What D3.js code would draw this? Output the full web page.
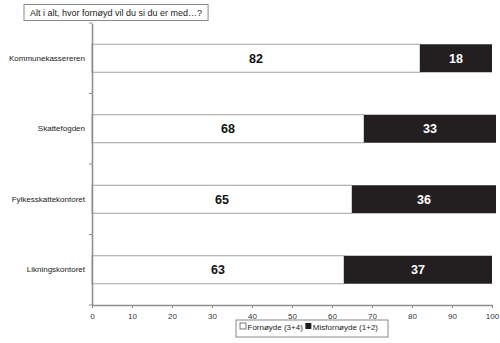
<!DOCTYPE html>
<html><head><meta charset="utf-8">
<script src="https://cdn.jsdelivr.net/npm/d3@7"></script>
<style>body{margin:0;background:#fff}svg{display:block;font-family:"Liberation Sans",Arial,sans-serif}</style>
</head><body>
<script>
const categories = ["Kommunekassereren","Skattefogden","Fylkesskattekontoret","Likningskontoret"];
const fornoyde = [82,68,65,63];
const misfornoyde = [18,33,36,37];
const seriesNames = ["Fornøyde (3+4)","Misfornøyde (1+2)"];
const xTicks = [0,10,20,30,40,50,60,70,80,90,100];
const title = "Alt i alt, hvor fornøyd vil du si du er med…?";

const W=500,H=343;
const svg=d3.select("body").append("svg").attr("width",W).attr("height",H);
const x=d3.scaleLinear().domain([0,100]).range([92,492]);
const y=d3.scaleBand().domain(categories).range([23,305]);
const barH=28;
const axisCol="#8c8c8c";

// title box
const tg=svg.append("g");
const tt=tg.append("text").attr("x",30).attr("y",16).attr("font-size",9).attr("fill","#222").text(title);
const tb=tt.node().getBBox();
tg.insert("rect","text").attr("x",24).attr("y",4.5).attr("width",tb.width+12).attr("height",16).attr("fill","#fff").attr("stroke","#888");

// bars
const data=categories.map((c,i)=>({c,a:fornoyde[i],b:misfornoyde[i]}));
const g=svg.append("g");
data.forEach(d=>{
  const yc=y(d.c)+y.bandwidth()/2;
  g.append("rect").attr("x",x(0)).attr("y",yc-barH/2).attr("width",x(d.a)-x(0)).attr("height",barH)
    .attr("fill","#fff").attr("stroke","#a0a0a0").attr("stroke-width",1);
  g.append("rect").attr("x",x(d.a)).attr("y",yc-barH/2).attr("width",x(d.a+d.b)-x(d.a)).attr("height",barH)
    .attr("fill","#231f20");
  g.append("text").attr("x",(x(0)+x(d.a))/2).attr("y",yc+4.5).attr("text-anchor","middle")
    .attr("font-size",12.5).attr("font-weight","bold").attr("fill","#111").text(d.a);
  g.append("text").attr("x",(x(d.a)+x(d.a+d.b))/2).attr("y",yc+4.5).attr("text-anchor","middle")
    .attr("font-size",12.5).attr("font-weight","bold").attr("fill","#fff").text(d.b);
});

// x axis
const xa=svg.append("g").attr("transform","translate(0,305)")
  .call(d3.axisBottom(x).tickValues(xTicks).tickSize(3).tickSizeOuter(0).tickPadding(5));
xa.select(".domain").attr("stroke",axisCol).attr("stroke-width",1.5);
xa.selectAll(".tick line").attr("stroke",axisCol);
xa.selectAll("text").attr("font-size",8).attr("fill","#333").attr("font-family","Liberation Sans, Arial, sans-serif");

// y axis
const ya=svg.append("g").attr("transform","translate(92,0)")
  .call(d3.axisLeft(y).tickSize(0).tickPadding(7));
ya.select(".domain").attr("stroke",axisCol).attr("stroke-width",1.5);
ya.selectAll("text").attr("font-size",8).attr("fill","#222").attr("font-family","Liberation Sans, Arial, sans-serif");
const bounds=[23].concat(categories.map(c=>y(c)+y.bandwidth()));
svg.append("g").selectAll("line").data(bounds).join("line")
  .attr("x1",89).attr("x2",92).attr("y1",d=>d).attr("y2",d=>d).attr("stroke",axisCol);

// legend
const lg=svg.append("g");
const lx=240, ly=329;
lg.append("rect").attr("x",236).attr("y",320).attr("width",152).attr("height",17).attr("fill","#fff").attr("stroke","#888");
lg.append("rect").attr("x",lx).attr("y",ly-6).attr("width",6).attr("height",6).attr("fill","#fff").attr("stroke","#555").attr("stroke-width",0.8);
const t1=lg.append("text").attr("x",lx+7.5).attr("y",ly+1).attr("font-size",8).attr("fill","#222").text(seriesNames[0]);
const w1=t1.node().getComputedTextLength();
lg.append("rect").attr("x",lx+9+w1+1).attr("y",ly-6).attr("width",6).attr("height",6).attr("fill","#231f20");
lg.append("text").attr("x",lx+9+w1+8.5).attr("y",ly+1).attr("font-size",8).attr("fill","#222").text(seriesNames[1]);
</script>
</body></html>
